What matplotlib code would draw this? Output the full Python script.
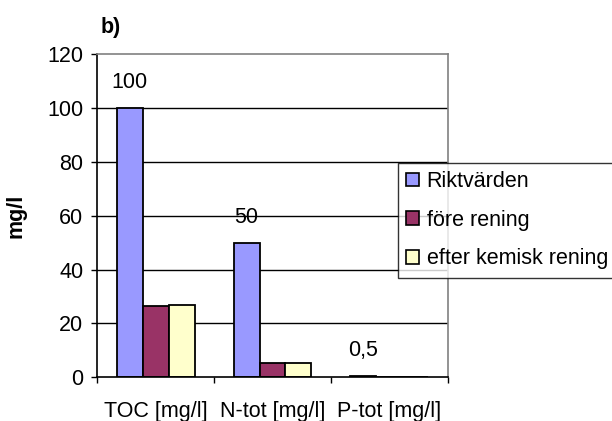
import matplotlib
matplotlib.use("Agg")
import matplotlib.pyplot as plt
import numpy as np

categories = ["TOC [mg/l]", "N-tot [mg/l]", "P-tot [mg/l]"]
series_names = ["Riktvärden", "före rening", "efter kemisk rening"]
riktvarden = [100, 50, 0.5]
fore_rening = [26.3, 5.3, 0.0]
efter_rening = [27.0, 5.3, 0.0]
value_labels = ["100", "50", "0,5"]
yticks = [0, 20, 40, 60, 80, 100, 120]
colors = ["#9999FF", "#993366", "#FFFFCC"]

plt.rcParams['font.family'] = ['Liberation Sans', 'DejaVu Sans']
FS = 15.5

fig = plt.figure(figsize=(6.12, 4.21), dpi=100)
W, H = 612, 421
left, right, top, bottom = 97.3, 447.7, 54.0, 377.3
ax = fig.add_axes([left / W, 1 - bottom / H, (right - left) / W, (bottom - top) / H])

x = np.arange(len(categories))
bw = 1 / 4.5
data = [riktvarden, fore_rening, efter_rening]
bars_list = []
for i, (vals, name, c) in enumerate(zip(data, series_names, colors)):
    bars = ax.bar(x + (i - 1) * bw, vals, width=bw, color=c, edgecolor="black",
                  linewidth=1.3, label=name, zorder=3)
    bars_list.append(bars)

for xi, v, lab in zip(x - bw, riktvarden, value_labels):
    ax.annotate(lab, (xi, v), xytext=(0, 18.0), textcoords="offset points",
                ha="center", va="center", fontsize=FS)

ax.set_xlim(-0.5, len(categories) - 0.5)
ax.set_ylim(0, 120)
ax.set_yticks(yticks)
ax.set_yticklabels([str(t) for t in yticks], fontsize=FS)
ax.tick_params(axis="y", direction="out", length=4, width=1, pad=6)

ax.set_xticks(x)
ax.set_xticklabels(categories, fontsize=FS)
ax.tick_params(axis="x", which="major", length=0, pad=17)
ax.set_xticks(np.arange(-0.5, len(categories)), minor=True)
ax.tick_params(axis="x", which="minor", direction="out", length=4, width=1)

for yv in yticks[1:-1]:
    ax.axhline(yv, color="black", linewidth=1, zorder=1)

ax.spines["left"].set_color("black")
ax.spines["bottom"].set_color("black")
ax.spines["top"].set_color("#808080")
ax.spines["right"].set_color("#808080")
for s in ax.spines.values():
    s.set_linewidth(1.2)
    s.set_zorder(4)

ax.set_ylabel("mg/l", fontsize=FS, fontweight="bold")
ax.yaxis.set_label_coords(-(left - 27) / (right - left), 0.5)

fig.text(101 / W, 1 - 28 / H, "b)", fontsize=FS, fontweight="bold", ha="left", va="center")

leg = fig.legend(handles=bars_list, labels=series_names, loc="upper left",
                 bbox_to_anchor=(398 / W, 1 - 163 / H), borderaxespad=0,
                 fontsize=FS, frameon=True, fancybox=False, shadow=False,
                 handlelength=0.6, handleheight=0.6, handletextpad=0.35,
                 labelspacing=0.82, borderpad=0.38)
leg.get_frame().set_edgecolor("black")
leg.get_frame().set_linewidth(1)
for p in leg.get_patches():
    p.set_linewidth(1.2)

fig.savefig("out.png", dpi=100)
